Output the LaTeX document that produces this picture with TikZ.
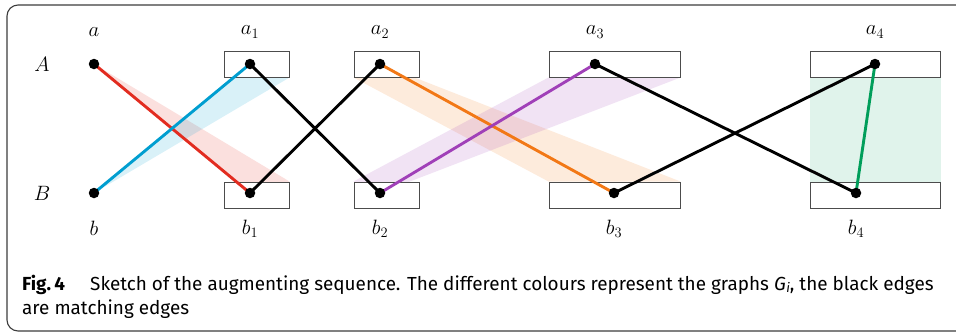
\documentclass[tikz,border=0pt]{standalone}
\usepackage{fontspec}
\newfontfamily\capfont{Fira Sans}
\definecolor{cred}{RGB}{226,44,32}
\definecolor{cblue}{RGB}{0,158,208}
\definecolor{corange}{RGB}{242,120,22}
\definecolor{cpurple}{RGB}{160,64,184}
\definecolor{cgreen}{RGB}{0,158,90}
\definecolor{framec}{RGB}{60,60,60}
\begin{document}
\begin{tikzpicture}[x=1pt,y=-1pt,
  dot/.style={circle,fill=black,inner sep=0pt,minimum size=10.5pt},
  setbox/.style={draw=black!70,fill=white,line width=1pt,inner sep=0pt,minimum height=26pt},
  edge/.style={line width=2.9pt},
  band/.style={fill opacity=0.15},
  lab/.style={font=\fontsize{21.5}{24}\selectfont},
  captxt/.style={font=\capfont\fontsize{18.9}{22}\selectfont,anchor=base west,inner sep=0pt}]
\useasboundingbox (0,0) rectangle (956,333);
\draw[framec,line width=1.1pt,rounded corners=11pt] (7,5) rectangle (970,331);
% boxes (positions only)
\path (256.5,64) node[setbox,minimum width=65pt] (A1) {}
      (256.5,195) node[setbox,minimum width=65pt] (B1) {}
      (386.5,64) node[setbox,minimum width=65pt] (A2) {}
      (386.5,195) node[setbox,minimum width=65pt] (B2) {}
      (614.5,64) node[setbox,minimum width=131pt] (A3) {}
      (614.5,195) node[setbox,minimum width=131pt] (B3) {}
      (875,64) node[setbox,minimum width=130pt] (A4) {}
      (875,195) node[setbox,minimum width=130pt] (B4) {};
% vertices
\coordinate (a) at (94,64);
\coordinate (b) at (94,193);
\coordinate (a1) at (250,64);
\coordinate (b1) at (250,193);
\coordinate (a2) at (380,64);
\coordinate (b2) at (380,193);
\coordinate (a3) at (595,64);
\coordinate (b3) at (614,193);
\coordinate (a4) at (875,64);
\coordinate (b4) at (856,193);
% bands
\fill[cred,band] (a) -- (b1) -- (B1.north east) -- cycle;
\fill[cblue,band] (b) -- (a1) -- (A1.south east) -- cycle;
\fill[corange,band] (A2.south west) -- (a2) -- (B3.north east) -- (B3.north west) -- cycle;
\fill[cpurple,band] (B2.north west) -- (b2) -- (A3.south east) -- (A3.south west) -- cycle;
\fill[cgreen,fill opacity=0.12] (A4.south west) rectangle (B4.north east);
% redraw boxes on top
\foreach \n/\w/\x/\y in {A1/65/256.5/64,B1/65/256.5/195,A2/65/386.5/64,B2/65/386.5/195,A3/131/614.5/64,B3/131/614.5/195,A4/130/875/64,B4/130/875/195}
  \node[setbox,minimum width=\w pt] at (\x,\y) {};
% edges
\draw[edge,cred] (a) -- (b1);
\draw[edge,cblue] (b) -- (a1);
\draw[edge] (a1) -- (b2);
\draw[edge] (b1) -- (a2);
\draw[edge,corange] (a2) -- (b3);
\draw[edge,cpurple] (b2) -- (a3);
\draw[edge] (a3) -- (b4);
\draw[edge] (b3) -- (a4);
\draw[edge,cgreen] (a4) -- (b4);
% dots
\foreach \p in {a,b,a1,b1,a2,b2,a3,b3,a4,b4}
  \node[dot] at (\p) {};
% labels
\node[lab] (la) at (94,32) {$a$};
\node[lab] (la1) at (250,32) {$a_1$};
\node[lab] (la2) at (380,32) {$a_2$};
\node[lab] (la3) at (595,32) {$a_3$};
\node[lab] (la4) at (875,32) {$a_4$};
\node[lab] (lb) at (94,228) {$b$};
\node[lab] (lb1) at (250,229) {$b_1$};
\node[lab] (lb2) at (380,229) {$b_2$};
\node[lab] (lb3) at (614,229) {$b_3$};
\node[lab] (lb4) at (856,229) {$b_4$};
\node[lab] (lA) at (42,64) {$A$};
\node[lab] (lB) at (42,193) {$B$};
% caption
\node[captxt] (fig) at (22,290) {\bfseries Fig.\,4};
\node[captxt] (cap1) at (90,290) {Sketch of the augmenting sequence. The different colours represent the graphs {\itshape G\kern0.5pt\raisebox{-0.25ex}{\fontsize{13}{14}\selectfont i}}, the black edges};
\node[captxt] (cap2) at (22,314) {are matching edges};
\end{tikzpicture}
\end{document}
